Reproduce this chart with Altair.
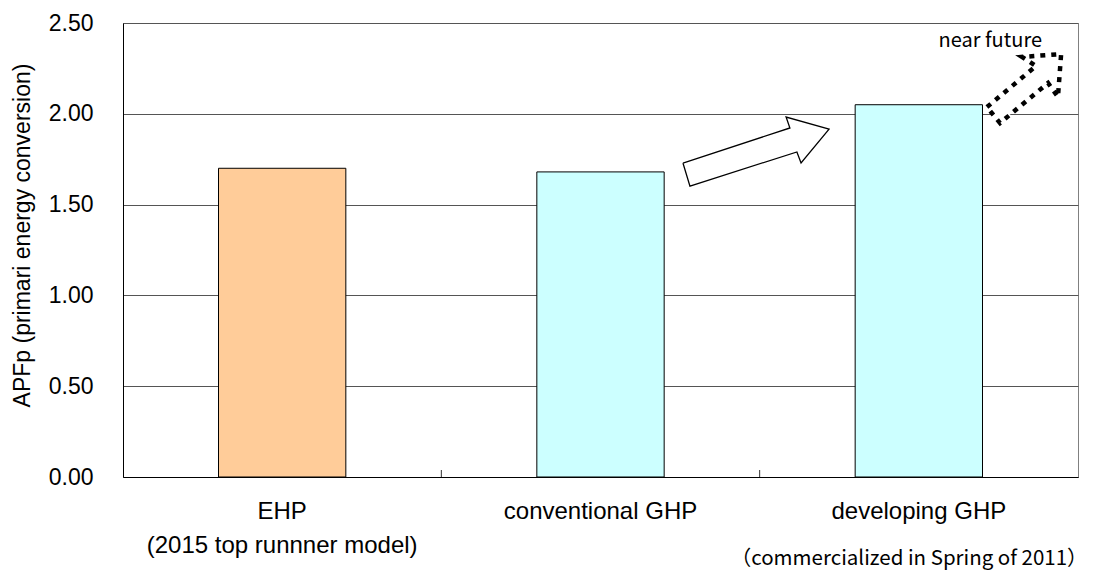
import altair as alt
import pandas as pd

# ---- data ----
categories = ["EHP", "conventional GHP", "developing GHP"]
sublabels = ["(2015 top runnner model)", "", ""]
values = [1.70, 1.68, 2.05]
colors = ["#FFCC99", "#CCFFFF", "#CCFFFF"]

y_ticks = [0.0, 0.5, 1.0, 1.5, 2.0, 2.5]
boundaries = [1, 2]  # category boundaries (in category units)

# block arrow (conventional -> developing), in category units / APFp units
arrow_x = [1.759, 2.095, 2.083, 2.218, 2.130, 2.117, 1.781, 1.759]
arrow_y = [1.729, 1.922, 1.982, 1.916, 1.729, 1.790, 1.602, 1.729]

# dotted "near future" arrow
future_x = [2.714, 2.868, 2.824, 2.947, 2.937, 2.906, 2.755, 2.714]
future_y = [2.037, 2.263, 2.313, 2.329, 2.093, 2.170, 1.949, 2.037]

note_text = ["near future"]
note_x = [2.887]
note_y = [2.368]

foot_text = ["（commercialized in Spring of 2011）"]
foot_x = [3.03]

W, H = 955, 454
FONT = "Liberation Sans"
JFONT = "Noto Sans CJK JP"

# label expression for two-line first label
expr = ""
for c, s in zip(categories, sublabels):
    if s:
        expr += f"datum.label == '{c}' ? ['{c}', '{s}'] : "
expr += "datum.label"

bars_df = pd.DataFrame({"cat": categories, "val": values})
arrow_df = pd.DataFrame({"x": arrow_x, "val": arrow_y, "o": list(range(len(arrow_x)))})
future_df = pd.DataFrame({"x": future_x, "val": future_y, "o": list(range(len(future_x)))})
note_df = pd.DataFrame({"x": note_x, "val": note_y, "t": note_text})
foot_df = pd.DataFrame({"x": foot_x, "t": foot_text})
bnd_df = pd.DataFrame({"x": boundaries})

yscale = alt.Scale(domain=[0, 2.5], nice=False)
xq = alt.Scale(domain=[0, 3], nice=False, zero=False)

bars = alt.Chart(bars_df).mark_bar(stroke="black", strokeWidth=1).encode(
    x=alt.X(
        "cat:N",
        sort=categories,
        scale=alt.Scale(paddingInner=0.6, paddingOuter=0.3),
        axis=alt.Axis(
            title=None,
            labelAngle=0,
            ticks=False,
            tickSize=0,
            grid=False,
            labelPadding=22,
            labelFont=FONT,
            labelFontSize=24,
            labelColor="black",
            labelLineHeight=34,
            labelLimit=0,
            labelExpr=expr,
            domainColor="black",
            domainWidth=1,
        ),
    ),
    y=alt.Y(
        "val:Q",
        scale=yscale,
        axis=alt.Axis(
            values=y_ticks,
            format=".2f",
            title="APFp (primari energy conversion)",
            titleFont=FONT,
            titleFontSize=23,
            titleFontWeight="normal",
            titleColor="black",
            titlePadding=14,
            titleY=212,
            labelFont=FONT,
            labelFontSize=23,
            labelColor="black",
            labelPadding=30,
            ticks=False,
            tickSize=0,
            grid=True,
            gridColor="#555555",
            gridWidth=1,
            domainColor="black",
            domainWidth=1,
        ),
    ),
    color=alt.Color("cat:N", scale=alt.Scale(domain=categories, range=colors), legend=None),
)

ticks = alt.Chart(bnd_df).mark_rule(color="#333333", strokeWidth=1).encode(
    x=alt.X("x:Q", scale=xq, axis=None),
    y=alt.value(H),
    y2=alt.value(H - 7),
)

arrow = alt.Chart(arrow_df).mark_line(
    stroke="black", strokeWidth=1.3, fill="white", strokeJoin="miter"
).encode(
    x=alt.X("x:Q", scale=xq, axis=None),
    y=alt.Y("val:Q", scale=yscale),
    order="o:O",
)

future = alt.Chart(future_df).mark_line(
    stroke="black", strokeWidth=4.5, strokeDash=[5, 6], fill="white", strokeJoin="miter"
).encode(
    x=alt.X("x:Q", scale=xq, axis=None),
    y=alt.Y("val:Q", scale=yscale),
    order="o:O",
)

note = alt.Chart(note_df).mark_text(
    font=JFONT, fontSize=20, align="right", baseline="alphabetic", color="black"
).encode(
    x=alt.X("x:Q", scale=xq, axis=None),
    y=alt.Y("val:Q", scale=yscale),
    text="t:N",
)

foot = alt.Chart(foot_df).mark_text(
    font=JFONT, fontSize=20.5, align="right", baseline="middle", color="black"
).encode(
    x=alt.X("x:Q", scale=xq, axis=None),
    y=alt.value(H + 82),
    text="t:N",
)

chart = (
    alt.layer(bars, ticks, arrow, future, note, foot)
    .resolve_scale(x="independent")
    .properties(
        width=W,
        height=H,
        autosize=alt.AutoSizeParams(type="none"),
        padding={"left": 115, "top": 15, "right": 13, "bottom": 95},
        background="white",
    )
    .configure_view(stroke="#808080", strokeWidth=1)
)

chart.save("out.html", embed_options={"renderer": "svg", "actions": False})
